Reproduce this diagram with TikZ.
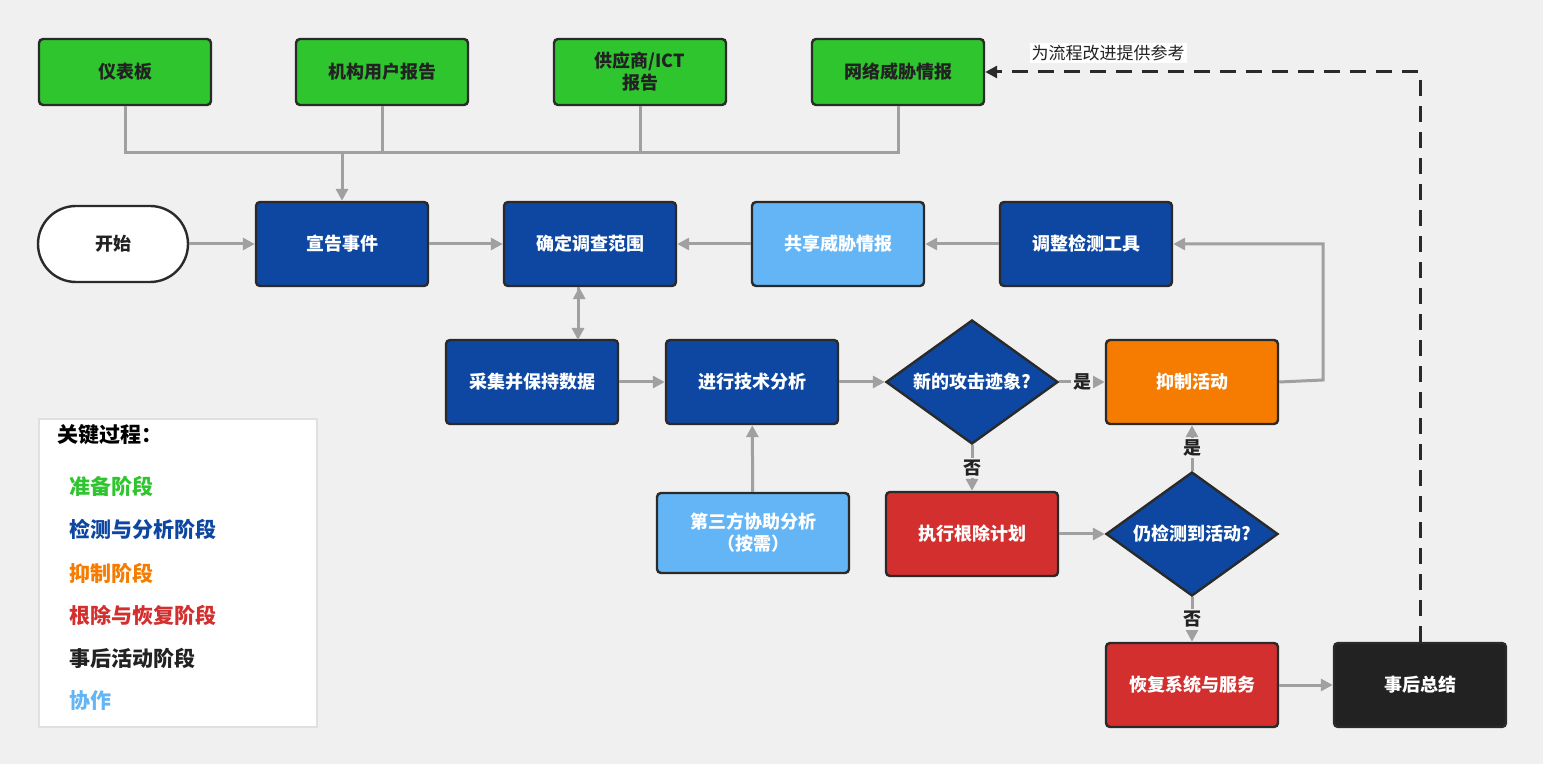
\documentclass[tikz,border=0pt]{standalone}
\usepackage{fontspec}
\setmainfont{Noto Sans CJK SC}
\usetikzlibrary{shapes.geometric,arrows.meta}
\definecolor{bg}{HTML}{F0F0F0}
\definecolor{cgreen}{HTML}{2FC52F}
\definecolor{cblue}{HTML}{0D47A1}
\definecolor{clblue}{HTML}{64B5F6}
\definecolor{corange}{HTML}{F57C00}
\definecolor{cred}{HTML}{D32F2F}
\definecolor{cblack}{HTML}{222222}
\definecolor{cline}{HTML}{A0A0A0}
\definecolor{cborder}{HTML}{2A2A2A}
\begin{document}
\begin{tikzpicture}[x=0.5pt,y=-0.5pt,
  box/.style={draw=cborder,line width=1.2pt,rounded corners=2pt,minimum width=86pt,minimum height=42pt,align=center,font=\fontsize{9}{11}\selectfont\bfseries,text=white},
  green/.style={box,fill=cgreen,minimum height=33pt,text=cblack},
  blue/.style={box,fill=cblue},
  lblue/.style={box,fill=clblue},
  dia/.style={diamond,aspect=1.4,draw=cborder,line width=1.2pt,fill=cblue,text=white,font=\fontsize{9}{11}\selectfont\bfseries,minimum width=86pt,minimum height=62pt,inner sep=0pt},
  con/.style={draw=cline,line width=1.5pt},
  arr/.style={con,-{Triangle[width=6pt,length=6pt]}},
  lab/.style={fill=bg,inner sep=1pt,font=\fontsize{9}{11}\selectfont\bfseries,text=cblack},
  leg/.style={anchor=west,font=\fontsize{10.5}{12}\selectfont\bfseries}]
\fill[bg] (0,0) rectangle (1543,764);
\useasboundingbox (0,0) rectangle (1543,764);
% top
\node[green] (d1) at (125,72) {仪表板};
\node[green] (d2) at (382,72) {机构用户报告};
\node[green] (d3) at (640,72) {供应商/ICT\\报告};
\node[green] (d4) at (898,72) {网络威胁情报};
\node[draw=cborder,line width=1.2pt,fill=white,rounded corners=19pt,minimum width=75pt,minimum height=38pt,font=\fontsize{9}{11}\selectfont\bfseries,text=cblack] (start) at (113,244) {开始};
\node[blue] (dec) at (342,244) {宣告事件};
\node[blue] (scope) at (590,244) {确定调查范围};
\node[lblue] (share) at (838,244) {共享威胁情报};
\node[blue] (tune) at (1086,244) {调整检测工具};
\node[blue] (coll) at (532,382) {采集并保持数据};
\node[blue] (ana) at (752,382) {进行技术分析};
\node[dia] (q1) at (972,382) {新的攻击迹象?};
\node[box,fill=corange] (cont) at (1192,382) {抑制活动};
\node[lblue,minimum width=96pt,minimum height=40pt] (third) at (753,533) {第三方协助分析\\（按需）};
\node[box,fill=cred] (erad) at (972,534) {执行根除计划};
\node[dia] (q2) at (1192,534) {仍检测到活动?};
\node[box,fill=cred] (rec) at (1192,685) {恢复系统与服务};
\node[box,fill=cblack] (post) at (1420,685) {事后总结};
% top connectors
\coordinate (j) at (342,153);
\draw[con] (d1.south) |- (j);
\draw[con] (d4.south) |- (j);
\draw[con] (d2.south) -- (d2.south |- j);
\draw[con] (d3.south) -- (d3.south |- j);
\draw[arr] (j) -- (dec.north);
\draw[arr] (start) -- (dec);
\draw[arr] (dec) -- (scope);
\draw[arr] (share) -- (scope);
\draw[arr] (tune) -- (share);
\draw[arr] (scope.south -| coll.north east) ++(-40,0) coordinate (s1);
\draw[arr] (578,287) -- (578,340) coordinate (s2);
\draw[arr] (coll) -- (ana);
\draw[arr] (ana) -- (q1);
\draw[arr] (q1) -- node[lab]{是} (cont);
\coordinate (r1) at (1323,380);
\draw[arr] (cont.east) -- (r1) |- (tune.east);
\draw[arr] (q1) -- node[lab]{否} (erad);
\draw[arr] (third) -- (ana);
\draw[arr] (erad) -- (q2);
\draw[arr] (q2) -- node[lab]{是} (cont);
\draw[arr] (q2) -- node[lab]{否} (rec);
\draw[arr] (rec) -- (post);
\coordinate (t1) at (1420,72);
\draw[draw=cborder,line width=1.5pt,dash pattern=on 8pt off 5pt,-{Triangle[width=6pt,length=6pt]}] (post.north) -- (t1) -- (d4.east);
\node[fill=white,inner sep=1pt,font=\fontsize{8.5}{10}\selectfont,text=cblack] at (1108,53) {为流程改进提供参考};
% legend
\draw[draw=black!12,fill=white,line width=0.6pt] (39,419) rectangle (317,727);
\node[leg,text=black] at (50,435) {关键过程：};
\node[leg,text=cgreen] at (62,486) {准备阶段};
\node[leg,text=cblue] at (62,529) {检测与分析阶段};
\node[leg,text=corange] at (62,573) {抑制阶段};
\node[leg,text=cred] at (62,615) {根除与恢复阶段};
\node[leg,text=cblack] at (62,658) {事后活动阶段};
\node[leg,text=clblue] at (62,701) {协作};
\end{tikzpicture}
\end{document}
